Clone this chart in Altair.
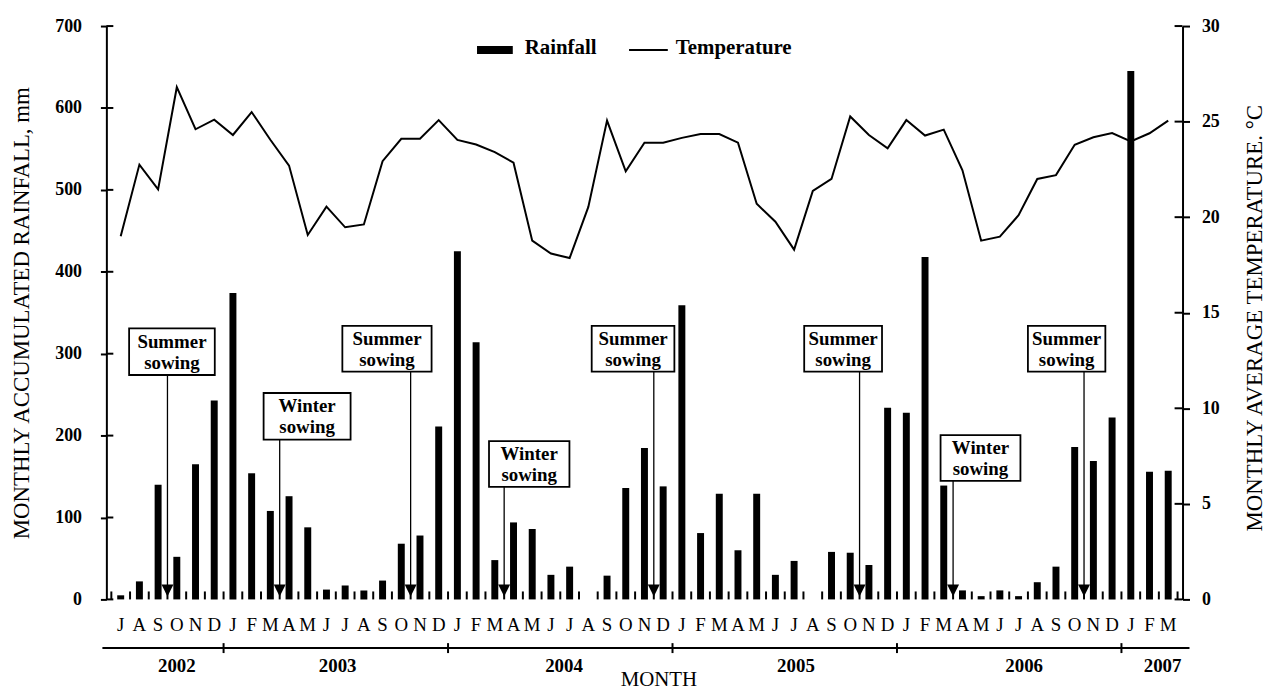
import altair as alt
import pandas as pd

# ---------------- data ----------------
months = list("JASOND") + list("JFMAMJJASOND") * 4 + list("JFM")
years = [2002] * 6 + [2003] * 12 + [2004] * 12 + [2005] * 12 + [2006] * 12 + [2007] * 3

rainfall = [5, 22, 140, 52, 165, 243,
            374, 154, 108, 126, 88, 12, 17, 11, 23, 68, 78, 211,
            425, 314, 48, 94, 86, 30, 40, 0, 29, 136, 185, 138,
            359, 81, 129, 60, 129, 30, 47, 0, 58, 57, 42, 234,
            228, 418, 139, 11, 4, 11, 4, 21, 40, 186, 169, 222,
            645, 156, 157]

temperature = [19.0, 22.75, 21.45, 26.8, 24.6, 25.1,
               24.3, 25.5, 24.05, 22.7, 19.07, 20.55, 19.47, 19.62, 22.93, 24.1, 24.1, 25.08,
               24.04, 23.8, 23.4, 22.85, 18.77, 18.1, 17.86, 20.54, 25.05, 22.4, 23.9, 23.9,
               24.15, 24.35, 24.35, 23.9, 20.7, 19.76, 18.3, 21.37, 22.0, 25.27, 24.3, 23.6,
               25.08, 24.27, 24.58, 22.45, 18.77, 18.98, 20.1, 22.0, 22.2, 23.79, 24.18, 24.4,
               23.97, 24.39, 25.05]

year_labels = ["2002", "2003", "2004", "2005", "2006", "2007"]
year_label_pos = [3.5, 12.1, 24.2, 36.6, 48.8, 56.2]

sowing_text = ["Summer\nsowing", "Winter\nsowing", "Summer\nsowing", "Winter\nsowing",
               "Summer\nsowing", "Summer\nsowing", "Winter\nsowing", "Summer\nsowing"]
sowing_at = [3, 9, 16, 21, 29, 40, 45, 52]          # month boundary the arrow points at
box_x0 = [0.95, 8.14, 12.35, 20.19, 25.68, 37.04, 44.33, 49.0]
box_x1 = [5.53, 12.79, 17.12, 24.49, 30.1, 41.2, 48.6, 53.14]
box_y0 = [274, 195, 278, 137.5, 278, 278, 144.7, 278]
box_y1 = [331, 252, 334, 193.3, 334, 334, 200.5, 334]

rain_ticks = list(range(0, 701, 100))
temp_ticks = list(range(0, 31, 5))

# ---------------- tables ----------------
n = len(months)
df = pd.DataFrame({"pos": [i + 0.5 for i in range(n)], "month": months,
                   "rain": rainfall, "temp": temperature})
bounds = pd.DataFrame({"b": list(range(n + 1))})
year_bounds = pd.DataFrame({"b": [i for i in range(1, n) if years[i] != years[i - 1]]})
ylab = pd.DataFrame({"p": year_label_pos, "t": year_labels})
sow = pd.DataFrame({"t": sowing_text, "a": sowing_at, "x0": box_x0, "x1": box_x1,
                    "y0": box_y0, "y1": box_y1})
sow["xc"] = (sow["x0"] + sow["x1"]) / 2
sow["yc"] = (sow["y0"] + sow["y1"]) / 2
one = pd.DataFrame({"k": [0]})

W, H = 1083, 577
FONT = "Liberation Serif"

xs = alt.Scale(domain=[0, n], nice=False, zero=False)
yl = alt.Scale(domain=[0, 700], nice=False)
yr = alt.Scale(domain=[0, 30], nice=False)

x_axis = alt.Axis(values=list(range(n + 1)), labels=False, tickSize=5, tickWidth=2,
                  tickColor="black", domainColor="black", domainWidth=2, grid=False, title=None)
yl_axis = alt.Axis(orient="left", values=rain_ticks, tickSize=6, tickWidth=2, tickColor="black",
                   domainColor="black", domainWidth=2, grid=False,
                   labelFont=FONT, labelFontWeight="bold", labelFontSize=18, labelColor="black",
                   labelPadding=19,
                   title="MONTHLY ACCUMULATED RAINFALL,  mm", titleFont=FONT,
                   titleFontWeight="normal", titleFontSize=23, titleColor="black",
                   titleAngle=270, titleX=-85, titleY=H / 2, titleAlign="center",
                   titleBaseline="middle")
yr_axis = alt.Axis(orient="right", values=temp_ticks, tickSize=7, tickWidth=2, tickColor="black",
                   domainColor="black", domainWidth=2, grid=False,
                   labelFont=FONT, labelFontWeight="bold", labelFontSize=18, labelColor="black",
                   labelPadding=12,
                   title="MONTHLY AVERAGE TEMPERATURE. °C", titleFont=FONT,
                   titleFontWeight="normal", titleFontSize=23, titleColor="black",
                   titleAngle=270, titleX=72, titleY=H / 2 + 5, titleAlign="center",
                   titleBaseline="middle")

bars = alt.Chart(df).mark_bar(size=7, color="black").encode(
    x=alt.X("pos:Q", scale=xs, axis=x_axis),
    y=alt.Y("rain:Q", scale=yl, axis=yl_axis))

temp_line = alt.Chart(df).mark_line(color="black", strokeWidth=2).encode(
    x=alt.X("pos:Q", scale=xs, axis=None),
    y=alt.Y("temp:Q", scale=yr, axis=yr_axis))

x_in_ticks = alt.Chart(bounds).mark_rule(color="black", strokeWidth=2).encode(
    x=alt.X("b:Q", scale=xs, axis=None), y=alt.value(H - 8), y2=alt.value(H))

yl_in_ticks = alt.Chart(pd.DataFrame({"v": rain_ticks})).mark_rule(color="black", strokeWidth=2).encode(
    y=alt.Y("v:Q", scale=yl, axis=None), x=alt.value(0), x2=alt.value(7))

yr_in_ticks = alt.Chart(pd.DataFrame({"v": temp_ticks})).mark_rule(color="black", strokeWidth=2).encode(
    y=alt.Y("v:Q", scale=yr, axis=None), x=alt.value(W - 8), x2=alt.value(W))

boxes = alt.Chart(sow).mark_rect(fill="white", stroke="black", strokeWidth=1.8).encode(
    x=alt.X("x0:Q", scale=xs, axis=None), x2="x1:Q",
    y=alt.Y("y0:Q", scale=yl, axis=None), y2="y1:Q")

box_text = alt.Chart(sow).mark_text(font=FONT, fontWeight="bold", fontSize=19, lineBreak="\n",
                                    lineHeight=21, align="center", baseline="middle", dy=-10,
                                    color="black").encode(
    x=alt.X("xc:Q", scale=xs, axis=None), y=alt.Y("yc:Q", scale=yl, axis=None), text="t:N")

arrows = alt.Chart(sow).mark_rule(color="black", strokeWidth=1.3).encode(
    x=alt.X("a:Q", scale=xs, axis=None), y=alt.Y("y0:Q", scale=yl, axis=None),
    y2=alt.value(H - 14))

heads = alt.Chart(sow).mark_point(shape="M-1,-1L1,-1L0,1Z", size=144, filled=True,
                                  color="black", opacity=1, strokeWidth=0).encode(
    x=alt.X("a:Q", scale=xs, axis=None), y=alt.value(H - 9))

month_text = alt.Chart(df).mark_text(font=FONT, fontSize=19, baseline="alphabetic",
                                     align="center", color="black").encode(
    x=alt.X("pos:Q", scale=xs, axis=None), y=alt.value(H + 32), text="month:N")

year_line = alt.Chart(one).mark_rule(color="black", strokeWidth=2).encode(
    x=alt.value(-4), x2=alt.value(W + 7), y=alt.value(H + 49))

year_ticks = alt.Chart(year_bounds).mark_rule(color="black", strokeWidth=2).encode(
    x=alt.X("b:Q", scale=xs, axis=None), y=alt.value(H + 44), y2=alt.value(H + 54))

year_text = alt.Chart(ylab).mark_text(font=FONT, fontSize=19, fontWeight="bold",
                                      baseline="alphabetic", align="center", color="black").encode(
    x=alt.X("p:Q", scale=xs, axis=None), y=alt.value(H + 73), text="t:N")

month_title = alt.Chart(one).mark_text(text="MONTH", font=FONT, fontSize=21,
                                       baseline="alphabetic", align="center", color="black").encode(
    x=alt.value(556), y=alt.value(H + 87))

leg_rect = alt.Chart(one).mark_rect(color="black").encode(
    x=alt.value(373), x2=alt.value(409), y=alt.value(20), y2=alt.value(28))
leg_rain = alt.Chart(one).mark_text(text="Rainfall", font=FONT, fontSize=21, fontWeight="bold",
                                    align="left", baseline="alphabetic", color="black").encode(
    x=alt.value(421), y=alt.value(28))
leg_line = alt.Chart(one).mark_rule(color="black", strokeWidth=2).encode(
    x=alt.value(526), x2=alt.value(565), y=alt.value(24))
leg_temp = alt.Chart(one).mark_text(text="Temperature", font=FONT, fontSize=21, fontWeight="bold",
                                    align="left", baseline="alphabetic", color="black").encode(
    x=alt.value(573), y=alt.value(28))

chart = alt.layer(
    bars, temp_line, x_in_ticks, yl_in_ticks, yr_in_ticks, boxes, box_text, arrows, heads,
    month_text, year_line, year_ticks, year_text, month_title,
    leg_rect, leg_rain, leg_line, leg_temp
).resolve_scale(y="independent").properties(
    width=W, height=H,
    autosize=alt.AutoSizeParams(type="none"),
    padding={"left": 99, "top": 16, "right": 84, "bottom": 90},
    background="white",
).configure_view(stroke=None)

chart.save("out.html", embed_options={"renderer": "svg", "actions": False})
